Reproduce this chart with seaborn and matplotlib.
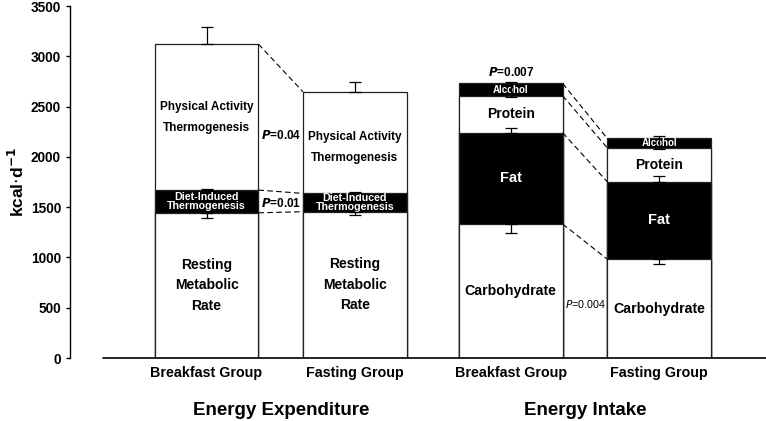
import numpy as np
import pandas as pd
import matplotlib
matplotlib.use("Agg")
import matplotlib.pyplot as plt
import seaborn as sns

# bar positions (x) and tick labels
positions = [0.0, 1.0, 2.05, 3.05]
tick_labels = ["Breakfast Group", "Fasting Group", "Breakfast Group", "Fasting Group"]

# energy expenditure components (kcal/d), breakfast vs fasting
ee_rmr = [1444, 1455]
ee_dit = [226, 182]
ee_pat = [1451, 1010]

# energy intake components (kcal/d), breakfast vs fasting
ei_carb = [1332, 984]
ei_fat = [908, 769]
ei_protein = [368, 337]
ei_alcohol = [122, 94]

# error bars: (bar index, value, err down, err up)
err_bars = [
    (0, 3121, 0, 170), (0, 1670, 0, 12), (0, 1444, 49, 0),
    (1, 2647, 0, 97), (1, 1637, 0, 13), (1, 1455, 34, 0),
    (2, 2730, 139, 17), (2, 2240, 0, 50), (2, 1332, 86, 0),
    (3, 2184, 110, 23), (3, 1753, 0, 56), (3, 984, 53, 0),
]

sns.set_style("ticks")
plt.rcParams['font.family'] = ['Liberation Sans', 'DejaVu Sans']
for k in ["text.color", "axes.labelcolor", "xtick.color", "ytick.color", "axes.edgecolor"]:
    plt.rcParams[k] = "black"

fig = plt.figure(figsize=(7.66, 4.21), dpi=100)
ax = fig.add_axes([0.0914, 0.1496, 0.9086, 0.836])

W = 0.70

def stack(ax, xs, layers, colors):
    # draw cumulative tops, tallest first, so each band shows its own colour
    cum = np.cumsum(np.array(layers), axis=0)
    for i in range(len(layers) - 1, -1, -1):
        df = pd.DataFrame({"x": xs, "y": cum[i]})
        sns.barplot(data=df, x="x", y="y", native_scale=True, width=W,
                    color=colors[i], saturation=1, edgecolor="#222222",
                    linewidth=0.9, ax=ax, errorbar=None)
    return cum

ee_cum = stack(ax, positions[:2], [ee_rmr, ee_dit, ee_pat], ["white", "black", "white"])
ei_cum = stack(ax, positions[2:], [ei_carb, ei_fat, ei_protein, ei_alcohol],
               ["white", "black", "white", "black"])

# error bars
for i, v, dn, up in err_bars:
    ax.errorbar(positions[i], v, yerr=[[dn], [up]], fmt="none", ecolor="black",
                elinewidth=0.9, capsize=4, capthick=0.9, zorder=5)

# dashed connectors between groups
def link(x1, x2, y1, y2):
    ax.plot([x1 + W / 2, x2 - W / 2], [y1, y2], ls=(0, (5, 3)), color="black",
            lw=0.8, zorder=4)

for k in range(3):
    link(positions[0], positions[1], ee_cum[k][0], ee_cum[k][1])
for k in range(4):
    link(positions[2], positions[3], ei_cum[k][0], ei_cum[k][1])

# labels inside the bars
def mid(cum, k, j):
    lo = 0 if k == 0 else cum[k - 1][j]
    return (lo + cum[k][j]) / 2

for j in range(2):
    x = positions[j]
    ax.text(x, mid(ee_cum, 0, j), "Resting\nMetabolic\nRate", ha="center", va="center",
            fontsize=10, fontweight="bold", linespacing=1.6)
    ax.text(x, mid(ee_cum, 1, j), "Diet-Induced\nThermogenesis", ha="center", va="center",
            fontsize=7.7, fontweight="bold", color="white", linespacing=0.92)
    ax.text(x, mid(ee_cum, 2, j) - (45 if j == 1 else 0), "Physical Activity\nThermogenesis",
            ha="center", va="center", fontsize=8.5, fontweight="bold", linespacing=2.0)
for j in range(2):
    x = positions[2 + j]
    ax.text(x, mid(ei_cum, 0, j), "Carbohydrate", ha="center", va="center",
            fontsize=10.2, fontweight="bold")
    ax.text(x, mid(ei_cum, 1, j), "Fat", ha="center", va="center",
            fontsize=10.5, fontweight="bold", color="white")
    ax.text(x, mid(ei_cum, 2, j), "Protein", ha="center", va="center",
            fontsize=10, fontweight="bold")
    ax.text(x, mid(ei_cum, 3, j), "Alcohol", ha="center", va="center",
            fontsize=7, fontweight="bold", color="white")

# p-values
ax.text(0.505, 2217, r"$\bfit{P}$=0.04", ha="center", va="center", fontsize=8.5, fontweight="bold")
ax.text(0.50, 1541, r"$\bfit{P}$=0.01", ha="center", va="center", fontsize=8.5, fontweight="bold")
ax.text(2.05, 2836, r"$\bfit{P}$=0.007", ha="center", va="center", fontsize=8.5, fontweight="bold")
ax.text(2.55, 537, r"$\it{P}$=0.004", ha="center", va="center", fontsize=7.7)

# axes styling
ax.set_xlim(-0.92, 3.77)
ax.set_ylim(0, 3500)
ax.set_yticks(np.arange(0, 3501, 500))
ax.set_yticklabels([str(v) for v in range(0, 3501, 500)], fontsize=9.8, fontweight="bold")
ax.set_xticks(positions)
ax.set_xticklabels(tick_labels, fontsize=10.3, fontweight="bold")
ax.tick_params(axis="x", length=0, pad=6)
ax.tick_params(axis="y", length=3, width=1, direction="out")
ax.set_xlabel("")
ax.set_ylabel(r"kcal$\cdot$d$^{\mathbf{-1}}$", fontsize=12.5, fontweight="bold", labelpad=3)
for s in ["top", "right", "bottom"]:
    ax.spines[s].set_visible(False)
ax.spines["left"].set_linewidth(1.0)
ax.plot([-0.70, 3.77], [0, 0], color="black", lw=1.2, clip_on=False, zorder=6)

ax.text(0.5, -0.148, "Energy Expenditure", transform=ax.get_xaxis_transform(),
        ha="center", va="center", fontsize=13.5, fontweight="bold")
ax.text(2.55, -0.148, "Energy Intake", transform=ax.get_xaxis_transform(),
        ha="center", va="center", fontsize=13.5, fontweight="bold")

fig.savefig("out.png", dpi=100)
